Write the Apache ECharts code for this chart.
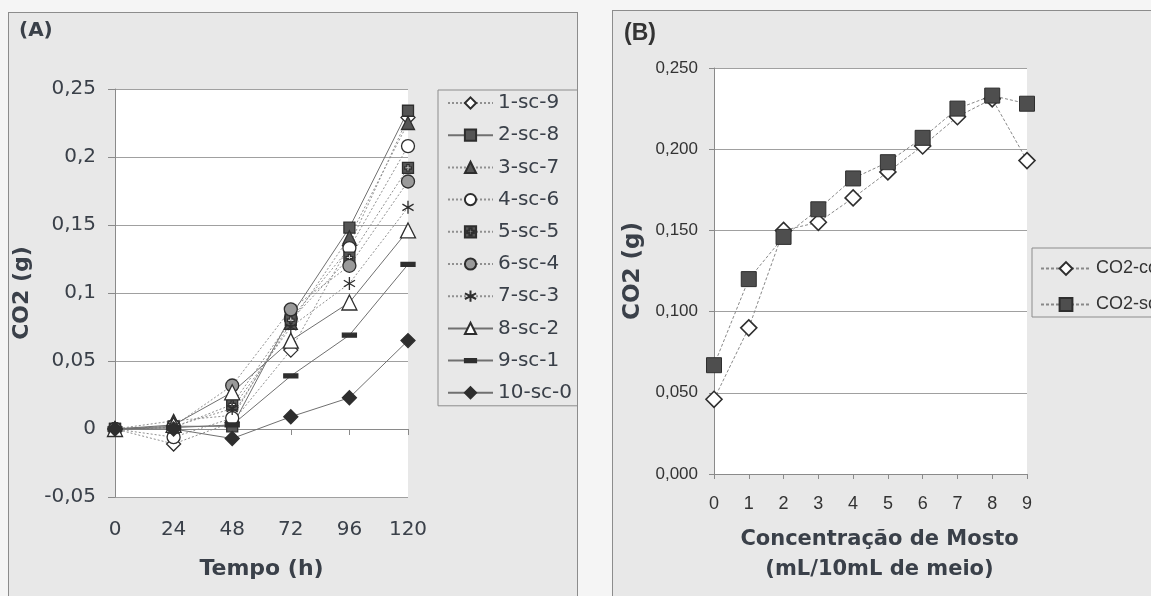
<!DOCTYPE html>
<html lang="pt">
<head>
    <meta charset="UTF-8">
    <title>CO2</title>
    <script src="https://cdn.jsdelivr.net/npm/echarts@6.0.0/dist/echarts.min.js"></script>
    <style>
        body{
            margin: 0;
            background-color: #f5f5f5;
            width: 1151px;
            height: 596px;
            overflow: hidden;
            position: relative;
        }
        .panel{
            position: absolute;
            border: 1px solid #8c8c8c;
            background-color: #e8e8e8;
            overflow: hidden;
        }
        #panelA{ left: 8px; top: 12px; width: 568px; height: 600px; }
        #panelB{ left: 612px; top: 10px; width: 600px; height: 600px; }
    </style>
</head>
<body>
<div id="panelA" class="panel"></div>
<div id="panelB" class="panel"></div>
<script>
    // (A) CO2 x tempo
    var tempoH = [0, 24, 48, 72, 96, 120];
    var nomesA = ['1-sc-9', '2-sc-8', '3-sc-7', '4-sc-6', '5-sc-5', '6-sc-4', '7-sc-3', '8-sc-2', '9-sc-1', '10-sc-0'];
    var sc9 = [0, -0.011, 0.005, 0.058, 0.135, 0.229];
    var sc8 = [0, 0.002, 0.002, 0.083, 0.148, 0.234];
    var sc7 = [0, 0.006, 0.010, 0.078, 0.141, 0.225];
    var sc6 = [0, -0.006, 0.008, 0.081, 0.133, 0.208];
    var sc5 = [0, 0.001, 0.018, 0.080, 0.126, 0.192];
    var sc4 = [0, 0.002, 0.032, 0.088, 0.120, 0.182];
    var sc3 = [0, 0.002, 0.015, 0.075, 0.107, 0.163];
    var sc2 = [0, 0.003, 0.027, 0.065, 0.093, 0.146];
    var sc1 = [0, 0.001, 0.003, 0.039, 0.069, 0.121];
    var sc0 = [0, 0.000, -0.007, 0.009, 0.023, 0.065];

    // (B) CO2 x concentracao de mosto
    var mosto = [0, 1, 2, 3, 4, 5, 6, 7, 8, 9];
    var nomesB = ['CO2-com', 'CO2-sc'];
    var co2Com = [0.046, 0.090, 0.150, 0.155, 0.170, 0.186, 0.202, 0.220, 0.231, 0.193];
    var co2Sc = [0.067, 0.120, 0.146, 0.163, 0.182, 0.192, 0.207, 0.225, 0.233, 0.228];

    function pares(xs, ys){
        var out = [];
        for (var i = 0; i < xs.length; i++) out.push([xs[i], ys[i]]);
        return out;
    }
    function virgula(v, casas){
        var s = casas == null ? String(+v.toFixed(3)) : v.toFixed(casas);
        return s.replace('.', ',');
    }

    var escuro = '#2e2e2e';
    var cinza = '#555555';
    var plusSq = 'path://M0 0L10 0L10 10L0 10Z M4 2L4 4L2 4L2 6L4 6L4 8L6 8L6 6L8 6L8 4L6 4L6 2Z';
    var asterisco = 'path://M5 0L5 10M0.7 2.5L9.3 7.5M0.7 7.5L9.3 2.5';
    // traco dentro de uma caixa quadrada (os M vazios fixam o tamanho)
    var traco = 'path://M0 0M14 14M0 5L14 5L14 9L0 9Z';

    var estilosA = [
        {symbol: 'diamond', size: 14, fill: '#fff', dash: [2, 2]},
        {symbol: 'rect', size: 11, fill: cinza, dash: 'solid'},
        {symbol: 'triangle', size: 13, fill: cinza, dash: [2, 2]},
        {symbol: 'circle', size: 13, fill: '#fff', dash: [2, 2]},
        {symbol: plusSq, size: 11, fill: cinza, dash: [2, 2]},
        {symbol: 'circle', size: 13, fill: '#9a9a9a', dash: [2, 2]},
        {symbol: asterisco, size: 13, fill: escuro, dash: [2, 2]},
        {symbol: 'triangle', size: 15, fill: '#fff', dash: 'solid'},
        {symbol: traco, size: 14, fill: escuro, dash: 'solid'},
        {symbol: 'diamond', size: 14, fill: escuro, dash: 'solid'}
    ];
    var dadosA = [sc9, sc8, sc7, sc6, sc5, sc4, sc3, sc2, sc1, sc0];

    var seriesA = [];
    for (var i = 0; i < nomesA.length; i++) {
        var e = estilosA[i];
        seriesA.push({
            name: nomesA[i],
            type: 'line',
            data: pares(tempoH, dadosA[i]),
            symbol: e.symbol,
            symbolSize: e.size,
            symbolKeepAspect: true,
            itemStyle: {color: e.fill, borderColor: escuro, borderWidth: 1.3},
            lineStyle: {color: e.dash === 'solid' ? '#707070' : '#909090', width: 1, type: e.dash}
        });
    }

    var fonteA = 'DejaVu Sans';
    var corTextoA = '#3a4049';

    var chartA = echarts.init(document.getElementById('panelA'));
    chartA.setOption({
        animation: false,
        title: {
            text: '(A)', left: 5, top: 3,
            textStyle: {fontFamily: fonteA, fontWeight: 'bold', fontSize: 20, color: corTextoA}
        },
        legend: {
            orient: 'vertical',
            left: 429, top: 77,
            padding: [3, 60, 3, 9],
            itemWidth: 45, itemHeight: 14, itemGap: 12.2,
            borderColor: '#8c8c8c', borderWidth: 1,
            textStyle: {fontFamily: fonteA, fontSize: 20, lineHeight: 20, color: corTextoA},
            data: nomesA
        },
        grid: {
            left: 106, top: 76, width: 293, height: 408,
            show: true, backgroundColor: '#fff', borderWidth: 0,
            outerBoundsMode: 'none'
        },
        xAxis: [{
            type: 'value', min: 0, max: 120, interval: 24,
            position: 'bottom',
            axisLine: {show: false, onZero: false},
            axisTick: {show: false},
            splitLine: {show: false},
            axisLabel: {margin: 23, fontFamily: fonteA, fontSize: 20, color: corTextoA},
            name: 'Tempo (h)', nameLocation: 'middle', nameGap: 61,
            nameTextStyle: {fontFamily: fonteA, fontWeight: 'bold', fontSize: 22, color: corTextoA}
        }, {
            type: 'value', min: 0, max: 120, interval: 24,
            position: 'top',
            axisLine: {show: true, onZero: true, lineStyle: {color: '#8a8a8a', width: 1}},
            axisTick: {show: true, inside: true, length: 6, lineStyle: {color: '#8a8a8a'}},
            axisLabel: {show: false},
            splitLine: {show: false}
        }],
        yAxis: {
            type: 'value', min: -0.05, max: 0.25, interval: 0.05,
            axisLine: {show: true, lineStyle: {color: '#8a8a8a', width: 1}},
            axisTick: {show: true, length: 7, lineStyle: {color: '#8a8a8a'}},
            splitLine: {show: true, lineStyle: {color: '#a0a0a0', width: 1}},
            axisLabel: {
                margin: 19, fontFamily: fonteA, fontSize: 20, color: corTextoA,
                formatter: function (v) { return virgula(v); }
            },
            name: 'CO2 (g)', nameLocation: 'middle', nameGap: 75,
            nameTextStyle: {fontFamily: fonteA, fontWeight: 'bold', fontSize: 22, color: corTextoA}
        },
        series: seriesA
    });

    var fonteB = 'Liberation Sans';
    var corTextoB = '#333';

    var chartB = echarts.init(document.getElementById('panelB'));
    chartB.setOption({
        animation: false,
        title: {
            text: '(B)', left: 6, top: 6,
            textStyle: {fontFamily: fonteB, fontWeight: 'bold', fontSize: 23, color: corTextoB}
        },
        legend: {
            orient: 'vertical',
            left: 419, top: 237,
            padding: [11, 80, 3, 8],
            itemWidth: 50, itemHeight: 16, itemGap: 17,
            borderColor: '#8c8c8c', borderWidth: 1,
            textStyle: {fontFamily: fonteB, fontSize: 18, lineHeight: 19, color: corTextoB},
            data: nomesB
        },
        grid: {
            left: 101, top: 57, width: 313, height: 406,
            show: true, backgroundColor: '#fff', borderWidth: 0,
            outerBoundsMode: 'none'
        },
        xAxis: {
            type: 'value', min: 0, max: 9, interval: 1,
            axisLine: {show: true, lineStyle: {color: '#8a8a8a', width: 1}},
            axisTick: {show: true, length: 5, lineStyle: {color: '#8a8a8a'}},
            splitLine: {show: false},
            axisLabel: {margin: 21, fontFamily: fonteB, fontSize: 18, color: corTextoB},
            name: 'Concentração de Mosto\n(mL/10mL de meio)', nameLocation: 'middle', nameGap: 51,
            nameTextStyle: {
                fontFamily: 'DejaVu Sans', fontWeight: 'bold', fontSize: 21, lineHeight: 30,
                color: '#3a4049', padding: [0, 0, 0, 18]
            }
        },
        yAxis: {
            type: 'value', min: 0, max: 0.25, interval: 0.05,
            axisLine: {show: true, lineStyle: {color: '#8a8a8a', width: 1}},
            axisTick: {show: true, length: 5, lineStyle: {color: '#8a8a8a'}},
            splitLine: {show: true, lineStyle: {color: '#a0a0a0', width: 1}},
            axisLabel: {
                margin: 16, fontFamily: fonteB, fontSize: 17, color: corTextoB,
                formatter: function (v) { return virgula(v, 3); }
            },
            name: 'CO2 (g)', nameLocation: 'middle', nameGap: 67,
            nameTextStyle: {fontFamily: 'DejaVu Sans', fontWeight: 'bold', fontSize: 23, color: '#3a4049'}
        },
        series: [{
            name: nomesB[0],
            type: 'line',
            data: pares(mosto, co2Com),
            symbol: 'diamond', symbolSize: 16,
            itemStyle: {color: '#fff', borderColor: escuro, borderWidth: 1.6},
            lineStyle: {color: '#888', width: 1, type: [3, 2]}
        }, {
            name: nomesB[1],
            type: 'line',
            data: pares(mosto, co2Sc),
            symbol: 'rect', symbolSize: 15,
            itemStyle: {color: '#4e4e4e', borderColor: '#2e2e2e', borderWidth: 1},
            lineStyle: {color: '#888', width: 1, type: [3, 2]}
        }]
    });
</script>
</body>
</html>
